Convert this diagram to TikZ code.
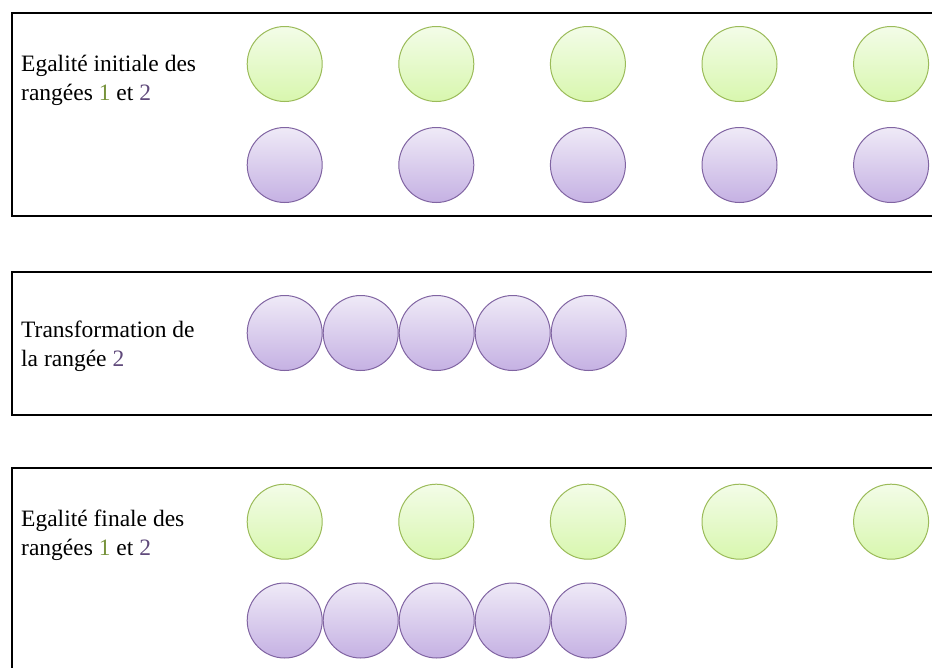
\documentclass[tikz,border=0pt]{standalone}
\usepackage{fontspec}
\setmainfont{Liberation Serif}
\usepackage{tikz}
\usepackage{xcolor}
\definecolor{ballgreen}{HTML}{9BBB59}
\definecolor{ballpurple}{HTML}{8064A2}
\definecolor{greentop}{HTML}{F3FCE8}
\definecolor{greenbottom}{HTML}{D8F7AE}
\definecolor{purpletop}{HTML}{EFEAF7}
\definecolor{purplebottom}{HTML}{C5B1E3}
\definecolor{numgreen}{HTML}{77933C}
\definecolor{numpurple}{HTML}{604A7B}
\tikzset{
  greenball/.style={circle,draw=ballgreen,line width=1pt,minimum size=75pt,inner sep=0pt,
    top color=greentop,bottom color=greenbottom},
  purpleball/.style={circle,draw=ballpurple,line width=1pt,minimum size=75pt,inner sep=0pt,
    top color=purpletop,bottom color=purplebottom},
  rowbox/.style={draw,line width=2pt},
  rowtext/.style={anchor=base west,align=left,inner sep=0pt,
    font=\fontsize{23.5}{28.5}\selectfont}
}

\begin{document}
\begin{tikzpicture}[x=1pt,y=-1pt]
\useasboundingbox (0,0) rectangle (932,667);
\clip (0,0) rectangle (932,667);
% boxes
\draw[rowbox] (12,13) rectangle (960,216);
\draw[rowbox] (12,272) rectangle (960,415);
\draw[rowbox] (12,468) rectangle (960,700);
% labels (base = last line)
\node[rowtext] (lab1) at (21,100) {Egalité initiale des\\rangées \textcolor{numgreen}{1} et \textcolor{numpurple}{2}};
\node[rowtext] (lab2) at (21,366) {Transformation de\\la rangée \textcolor{numpurple}{2}};
\node[rowtext] (lab3) at (21,555) {Egalité finale des\\rangées \textcolor{numgreen}{1} et \textcolor{numpurple}{2}};
% initial rows
\node[greenball] (g1a) at (284.7,64) {};
\node[greenball] (g1b) at (436.3,64) {};
\node[greenball] (g1c) at (587.9,64) {};
\node[greenball] (g1d) at (739.5,64) {};
\node[greenball] (g1e) at (891.1,64) {};
\node[purpleball] (p1a) at (284.7,165) {};
\node[purpleball] (p1b) at (436.3,165) {};
\node[purpleball] (p1c) at (587.9,165) {};
\node[purpleball] (p1d) at (739.5,165) {};
\node[purpleball] (p1e) at (891.1,165) {};
% transformed row
\node[purpleball] (p2a) at (284.7,333) {};
\node[purpleball] (p2b) at (360.7,333) {};
\node[purpleball] (p2c) at (436.7,333) {};
\node[purpleball] (p2d) at (512.7,333) {};
\node[purpleball] (p2e) at (588.7,333) {};
% final rows
\node[greenball] (g3a) at (284.7,521.7) {};
\node[greenball] (g3b) at (436.3,521.7) {};
\node[greenball] (g3c) at (587.9,521.7) {};
\node[greenball] (g3d) at (739.5,521.7) {};
\node[greenball] (g3e) at (891.1,521.7) {};
\node[purpleball] (p3a) at (284.7,620.5) {};
\node[purpleball] (p3b) at (360.7,620.5) {};
\node[purpleball] (p3c) at (436.7,620.5) {};
\node[purpleball] (p3d) at (512.7,620.5) {};
\node[purpleball] (p3e) at (588.7,620.5) {};
\end{tikzpicture}
\end{document}
